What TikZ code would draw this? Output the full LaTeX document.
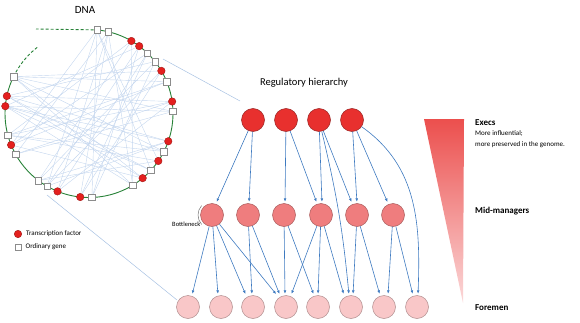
\documentclass[tikz,border=0pt]{standalone}
\usepackage{fontspec}
\setmainfont{Carlito}
\usepackage{xcolor}
\usepackage{tikz}
\usetikzlibrary{arrows.meta,positioning,calc,backgrounds}
\definecolor{tfred}{RGB}{228,32,30}
\definecolor{execfill}{RGB}{232,48,46}
\definecolor{midfill}{RGB}{239,125,126}
\definecolor{forefill}{RGB}{249,199,200}
\definecolor{arrblue}{RGB}{62,122,192}
\definecolor{linkblue}{RGB}{196,214,238}
\definecolor{zoomblue}{RGB}{168,194,226}
\definecolor{strand}{RGB}{40,130,56}

\begin{document}
\begin{tikzpicture}[
    x=1pt,
    y=1pt,
    >={Latex[length=3.4pt,width=2.8pt]},
    tf/.style={circle, fill=tfred, draw=tfred!70!black, line width=0.4pt, inner sep=0pt, minimum size=7.5pt},
    og/.style={rectangle, fill=white, draw=black!45, line width=0.5pt, inner sep=0pt, minimum size=6.5pt},
    execnode/.style={circle, fill=execfill, draw=execfill!65!black, line width=0.5pt, inner sep=0pt, minimum size=23pt},
    midnode/.style={circle, fill=midfill, draw=midfill!70!black, line width=0.5pt, inner sep=0pt, minimum size=23pt},
    forenode/.style={circle, fill=forefill, draw=forefill!70!black, line width=0.5pt, inner sep=0pt, minimum size=23pt},
    link/.style={draw=linkblue, line width=0.4pt},
    arr/.style={->, draw=arrblue, line width=0.6pt, shorten >=1.5pt},
    lab/.style={anchor=west, inner sep=0pt},
    tier/.style={lab, font=\fontsize{9}{10}\selectfont\bfseries}
]
\useasboundingbox (0,0) rectangle (580,322);

\coordinate (c) at (89,208.5);
\foreach \i/\a/\k in {1/84.5/og,2/76.8/og,3/59.7/tf,4/53.3/tf,5/46/og,6/38.2/og,7/30.5/tf,8/22.3/og,9/8.2/tf,10/1.4/og,11/-19.3/tf,12/-26.9/og,13/-34.4/tf,14/-42.6/og,15/-50.3/tf,16/-58.6/og,17/-88/og,18/-96/tf,19/-112/tf,20/-120/og,21/-127/og,22/-151/og,23/-158/tf,24/-165/og,25/175/tf,26/168/tf,27/154/og}{
  \node[\k] (d\i) at ([shift={(\a:84)}]c) {};
}
\begin{pgfonlayer}{background}
\draw[strand, line width=0.9pt] ([shift={(84.5:84)}]c) arc (84.5:-206:84);
\draw[strand, line width=0.9pt, densely dashed] ([shift={(154:84)}]c) arc (154:128:84);
\coordinate (strandend) at (36,293);
\draw[strand, line width=0.9pt, densely dashed] (d1) -- (strandend);
\foreach \a/\b in {1/17,1/20,1/14,2/19,2/16,2/22,3/24,3/21,4/25,5/23,5/18,6/26,6/21,7/27,7/20,8/27,8/24,9/26,9/22,10/25,10/27,11/26,11/21,12/25,12/27,13/24,13/1,14/26,15/27,15/23,16/25,16/3,17/4,18/7,19/9,19/5,20/11,21/13,22/10,23/8,24/12,25/14,26/15,27/16,1/23,2/18,4/20,6/17,9/24,11/25}{
  \draw[link] (d\a) -- (d\b);
}
\end{pgfonlayer}

\node[font=\fontsize{11}{12}\selectfont] (dna) at (85,312) {DNA};
\node[tf] (keytf) at (18,88) {};
\node[lab, right=4pt of keytf, font=\fontsize{7}{8}\selectfont] {Transcription factor};
\node[og] (keyog) at (18,75) {};
\node[lab, right=4pt of keyog, font=\fontsize{7}{8}\selectfont] {Ordinary gene};

\node[font=\fontsize{10.5}{12}\selectfont] (title) at (304,239) {Regulatory hierarchy};
\foreach \i/\x in {1/253,2/286,3/319,4/352}{
  \node[execnode] (e\i) at (\x,202) {};
}
\foreach \i/\x in {1/212,2/248,3/284,4/321,5/357,6/393}{
  \node[midnode] (m\i) at (\x,107) {};
}
\foreach \i/\x in {1/188,2/221,3/253,4/286,5/318,6/351,7/384,8/417}{
  \node[forenode] (f\i) at (\x,15) {};
}

\coordinate (zoomtop) at (240,221);
\coordinate (zoomtopstart) at (163,263);
\coordinate (zoombot) at (177,22);
\coordinate (zoombotstart) at (47,127);
\draw[zoomblue, line width=0.5pt] (zoomtopstart) -- (zoomtop);
\draw[zoomblue, line width=0.5pt] (zoombotstart) -- (zoombot);

\foreach \s/\t/\o in {e1/m1/4,e1/m2/1,e2/m3/1,e2/m4/-4,e3/m4/1,e3/m5/-5,e4/m5/0,e4/m6/-5,
  m1/f1/4,m1/f2/-3,m1/f3/-7,m1/f4/-9,m2/f3/-1,m2/f4/-6,m3/f4/-1,m3/f5/-4,
  m4/f4/5,m4/f5/0,m4/f6/-7,m5/f6/2,m5/f7/-4,m6/f7/4,m6/f8/-4}{
  \draw[arr] (\s) -- ([xshift=\o pt]\t.north);
}
\draw[arr] (e3) to[bend left=4] ([xshift=-2pt]f6.north);
\draw[arr] (e4) to[out=-35, in=88] ([xshift=1pt]f8.north);

\draw[black!55, line width=0.5pt] ([shift={(138:14)}]m1.center) arc (138:222:14) coordinate (neck);
\node[anchor=east, inner sep=1pt, font=\fontsize{6.5}{7}\selectfont] (bottleneck) at (neck) {Bottleneck};

\shade[top color=execfill!85!white, bottom color=forefill!70!white] (424,203) -- (464,203) -- (463,19) -- cycle;
\node[tier] (execs) at (475,199) {Execs};
\node[lab, below=4pt of execs.south west, anchor=north west, align=left, font=\fontsize{7}{11}\selectfont] (note) {More influential;\\ more preserved in the genome.};
\node[tier] (mids) at (475,111) {Mid-managers};
\node[tier] (fore) at (475,14) {Foremen};
\end{tikzpicture}
\end{document}
